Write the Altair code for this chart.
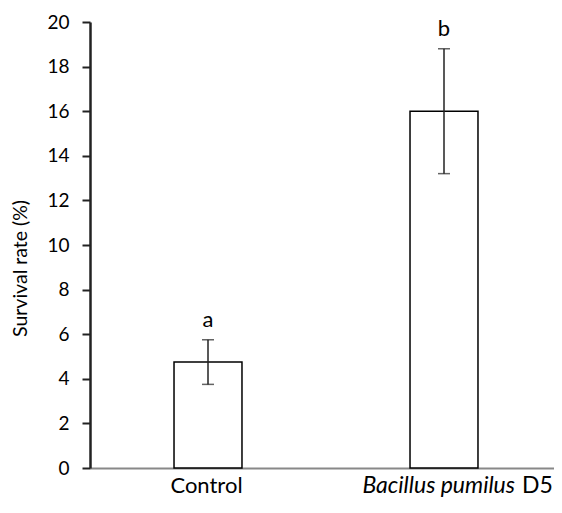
import altair as alt
import pandas as pd

groups = ["Control", "Bacillus pumilus D5"]
means = [4.75, 16.0]
err_low = [3.75, 13.2]
err_high = [5.75, 18.8]
letters = ["a", "b"]
y_ticks = [0, 2, 4, 6, 8, 10, 12, 14, 16, 18, 20]

df = pd.DataFrame({
    "group": groups,
    "mean": means,
    "low": err_low,
    "high": err_high,
    "letter": letters,
})

FONT = "Lato"

x_enc = alt.X(
    "group:N", sort=groups,
    scale=alt.Scale(paddingInner=0.712, paddingOuter=0.356, range=[0, 472]),
    axis=alt.Axis(title=None, labels=False, ticks=False,
                  domainColor="#888888", domainWidth=2),
)
y_scale = alt.Scale(domain=[0, 20], nice=False)

base = alt.Chart(df)

bars = base.mark_bar(fill="white", stroke="black", strokeWidth=1.5).encode(
    x=x_enc,
    y=alt.Y("mean:Q", scale=y_scale, axis=alt.Axis(
        values=y_ticks, title="Survival rate (%)", grid=False,
        domainColor="#222222", domainWidth=2.5, tickColor="#222222",
        tickWidth=2, tickSize=8, labelFontSize=19, labelPadding=13,
        labelColor="black", labelFont=FONT, titleFont=FONT,
        titleFontSize=19.5, titleFontWeight="normal", titleColor="black",
        titleX=-70, titleY=246, titleAlign="center", titleBaseline="middle",
        titleAngle=-90)),
)

rules = base.mark_rule(color="#222222", strokeWidth=1.5).encode(
    x=alt.X("group:N", sort=groups),
    y=alt.Y("low:Q", scale=y_scale),
    y2="high:Q",
)
cap_low = base.mark_tick(color="#222222", thickness=1.5, size=12).encode(
    x=alt.X("group:N", sort=groups),
    y=alt.Y("low:Q", scale=y_scale),
)
cap_high = base.mark_tick(color="#222222", thickness=1.5, size=12).encode(
    x=alt.X("group:N", sort=groups),
    y=alt.Y("high:Q", scale=y_scale),
)
letter_text = base.mark_text(font=FONT, fontSize=22, baseline="bottom", dy=-8, color="black").encode(
    x=alt.X("group:N", sort=groups),
    y=alt.Y("high:Q", scale=y_scale),
    text="letter:N",
)

lab_df = pd.DataFrame({"group": groups, "it": ["", "Bacillus pumilus"], "reg": ["Control", "D5"]})
lab_base = alt.Chart(lab_df)
LAB_Y = 471
label_ctrl = lab_base.transform_filter(alt.datum.group == "Control").mark_text(
    font=FONT, fontSize=22, baseline="alphabetic", align="center", dx=-1.5, color="black"
).encode(x=alt.X("group:N", sort=groups), y=alt.value(LAB_Y), text="reg:N")
label_it = lab_base.transform_filter(alt.datum.group != "Control").mark_text(
    font=FONT, fontSize=23, fontStyle="italic", baseline="alphabetic", align="right", dx=71, color="black"
).encode(x=alt.X("group:N", sort=groups), y=alt.value(LAB_Y), text="it:N")
label_reg = lab_base.transform_filter(alt.datum.group != "Control").mark_text(
    font=FONT, fontSize=23, baseline="alphabetic", align="left", dx=78, color="black"
).encode(x=alt.X("group:N", sort=groups), y=alt.value(LAB_Y), text="reg:N")

chart = alt.layer(bars, rules, cap_low, cap_high, letter_text, label_ctrl, label_it, label_reg).properties(
    width=464, height=446,
    autosize=alt.AutoSizeParams(type="none"),
    padding={"left": 82, "top": 14, "right": 0, "bottom": 30},
).configure(font=FONT, background="white").configure_view(stroke=None)

chart.save("out.html", embed_options={"renderer": "svg", "actions": False})
